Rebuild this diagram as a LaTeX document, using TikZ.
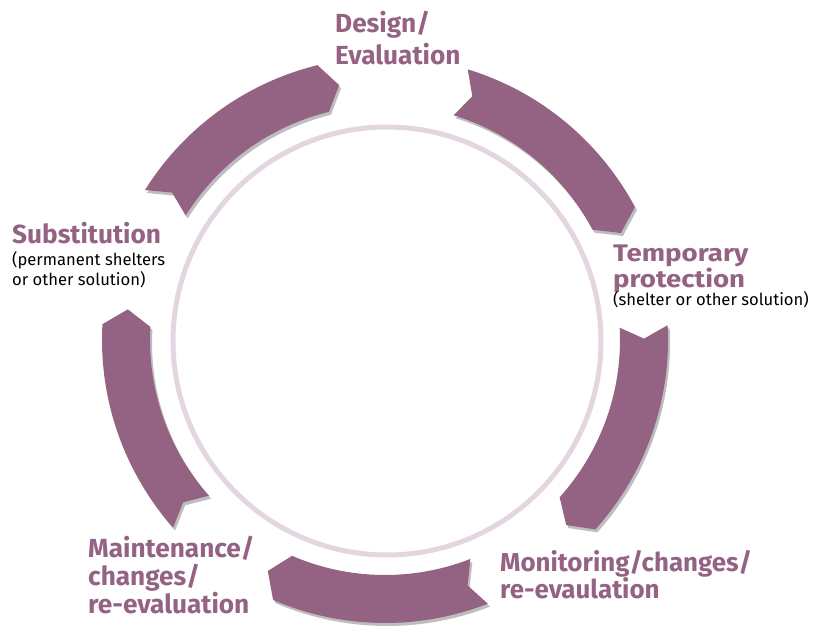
\documentclass[tikz,border=0pt]{standalone}
\usepackage{fontspec}
\setmainfont{Fira Sans}
\usepackage{tikz}
\usetikzlibrary{positioning,shadows}

\definecolor{cyclepurple}{HTML}{946283}
\definecolor{ringpink}{HTML}{E3D6E0}
\definecolor{shadowgray}{HTML}{BEBEBE}

\begin{document}
\begin{tikzpicture}[x=1pt,y=1pt,inner sep=0pt,
  arrowseg/.style={fill=cyclepurple,drop shadow={shadow xshift=2pt,shadow yshift=-3pt,fill=shadowgray,opacity=1}},
  steptitle/.style={anchor=base west,align=left,text=cyclepurple,font=\fontsize{26.2}{28}\selectfont\bfseries},
  stepnote/.style={anchor=base west,align=left,text=black,font=\fontsize{16.6}{20}\selectfont}]
\useasboundingbox (0,0) rectangle (813,625);
\coordinate (C) at (385,285);
\coordinate (R) at (387,284);
% inner ring
\draw[ringpink,line width=5pt] (R) circle (214);
% the five arrows, tail angle / head angle
\begin{scope}[shift={(C)}]
\foreach \t/\h in {73/28,3/-42,-68.7/-113.3,-138.5/-183.2,-212/-256.2}{
  \fill[arrowseg] (\t:283) arc[start angle=\t,end angle=\h,radius=283]
    -- (\h-3.6:259) -- (\h:235)
    arc[start angle=\h,end angle=\t,radius=235]
    -- (\t-2.7:259) -- cycle;
}
\end{scope}
% labels (base = last line)
\node[steptitle,font=\fontsize{26.2}{32}\selectfont\bfseries] (design) at (335,560) {Design/\\Evaluation};
\node[steptitle,font=\fontsize{24}{21}\selectfont\bfseries\addfontfeatures{FakeStretch=1.15}] (temp) at (613,338) {Temporary\\protection};
\node[stepnote] (tempnote) at (613,320) {(shelter or other solution)};
\node[steptitle,font=\fontsize{25.9}{27}\selectfont\bfseries] (monitor) at (500,27) {Monitoring/changes/\\re-evaulation};
\node[steptitle] (maint) at (88,12) {Maintenance/\\changes/\\re-evaluation};
\node[steptitle] (subst) at (12,382) {Substitution};
\node[stepnote] (substnote) at (12,340) {(permanent shelters\\or other solution)};
\end{tikzpicture}
\end{document}
